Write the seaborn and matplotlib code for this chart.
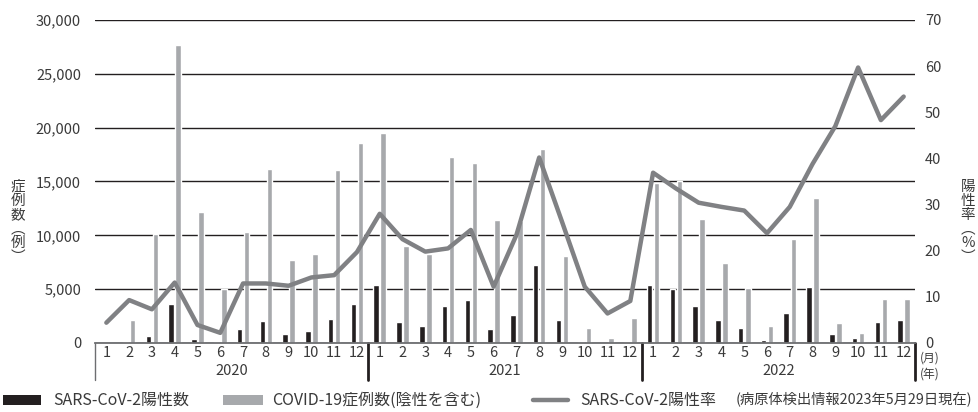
import matplotlib
matplotlib.use("Agg")
import matplotlib.pyplot as plt
import matplotlib.transforms as mtransforms
import pandas as pd
import seaborn as sns
from matplotlib.lines import Line2D
from matplotlib.patches import Rectangle

# --- data ---
years = ["2020", "2021", "2022"]
months = [str(m) for m in range(1, 13)]

positive_2020 = [0, 100, 650, 3600, 370, 50, 1270, 2000, 870, 1080, 2260, 3600]
positive_2021 = [5400, 1920, 1610, 3450, 4000, 1270, 2600, 7200, 2150, 100, 30, 100]
positive_2022 = [5400, 5000, 3450, 2100, 1400, 250, 2800, 5200, 800, 450, 1920, 2150]

cases_2020 = [0, 2100, 10100, 27700, 12200, 5000, 10300, 16200, 7700, 8300, 16100, 18600]
cases_2021 = [19500, 9000, 8300, 17300, 16700, 11400, 11300, 18000, 8100, 1400, 500, 2300]
cases_2022 = [14900, 15000, 11500, 7400, 5100, 1600, 9700, 13500, 1900, 900, 4100, 4100]

rate_2020 = [4.4, 9.3, 7.3, 13.1, 3.9, 2.2, 12.9, 12.9, 12.4, 14.2, 14.7, 19.7]
rate_2021 = [28.0, 22.5, 19.8, 20.5, 24.5, 12.2, 23.4, 40.2, 26.3, 12.2, 6.4, 9.1]
rate_2022 = [36.9, 33.5, 30.4, 29.5, 28.7, 23.8, 29.5, 38.8, 47.0, 59.7, 48.3, 53.4]

label_pos = "SARS-CoV-2陽性数"
label_cases = "COVID-19症例数(陰性を含む)"
label_rate = "SARS-CoV-2陽性率"
source_note = "(病原体検出情報2023年5月29日現在)"

BLACK = "#231f20"
GRAY_BAR = "#a7a9ac"
GRAY_LINE = "#808184"
TEXT = "#3a3a3a"

positives = positive_2020 + positive_2021 + positive_2022
cases = cases_2020 + cases_2021 + cases_2022
rates = rate_2020 + rate_2021 + rate_2022
idx = list(range(len(positives)))

df = pd.DataFrame({
    "idx": idx * 2,
    "series": [label_pos] * len(idx) + [label_cases] * len(idx),
    "value": positives + cases,
})

sns.set_theme(style="white")
plt.rcParams["font.family"] = ["Noto Sans CJK JP", "DejaVu Sans"]

fig = plt.figure(figsize=(9.79, 4.12), dpi=100)
ax = fig.add_axes([0.097, 0.1675, 0.8377, 0.7840])

sns.barplot(data=df, x="idx", y="value", hue="series", order=idx,
            hue_order=[label_pos, label_cases], palette=[BLACK, GRAY_BAR],
            width=0.62, gap=0.22, saturation=1, legend=False, ax=ax, zorder=2)

ax.set_xlim(-0.5, len(idx) - 0.5)
ax.set_ylim(0, 30000)
ax.set_yticks(range(0, 30001, 5000))
ax.set_yticklabels([f"{v:,}" for v in range(0, 30001, 5000)])
ax.yaxis.grid(True, color=BLACK, lw=1.0, zorder=0)
ax.set_axisbelow(True)
ax.set_xticks(idx)
ax.set_xticklabels(months * 3)
ax.set_xlabel("")
ax.set_ylabel("")
ax.tick_params(axis="both", length=0, labelsize=10.5, colors=TEXT)
ax.tick_params(axis="y", pad=10)
ax.tick_params(axis="x", pad=2)
for s in ["top", "right", "left"]:
    ax.spines[s].set_visible(False)
ax.spines["bottom"].set_color("#6d6e71")
ax.spines["bottom"].set_linewidth(1.3)

ax2 = ax.twinx()
sns.lineplot(x=idx, y=rates, ax=ax2, color=GRAY_LINE, lw=3.2)
ax2.set_ylim(0, 70)
ax2.set_yticks(range(0, 71, 10))
ax2.grid(False)
ax2.tick_params(axis="y", length=0, labelsize=10.5, colors=TEXT, pad=7)
for s in ax2.spines.values():
    s.set_visible(False)

# month / year box below the axis
trans = mtransforms.blended_transform_factory(ax.transData, ax.transAxes)
box_depth = -0.115
ax.plot([-0.5, -0.5], [0, box_depth], transform=trans, color="#6d6e71", lw=1.0, clip_on=False)
for xb in [11.5, 23.5, 35.5]:
    ax.plot([xb, xb], [0, box_depth], transform=trans, color=BLACK, lw=2.0, clip_on=False)
for i, y in enumerate(years):
    ax.text(i * 12 + 5.5, -0.087, y, transform=trans, ha="center", va="center",
            fontsize=10.5, color=TEXT)
ax.text(35.72, -0.047, "(月)", transform=trans, ha="left", va="center", fontsize=8.5, color=TEXT)
ax.text(35.72, -0.097, "(年)", transform=trans, ha="left", va="center", fontsize=8.5, color=TEXT)

# vertical axis titles
fig.text(18 / 979, 1 - 222 / 412, "\n".join(["症", "例", "数", "︵", "例", "︶"]),
         ha="center", va="center", fontsize=10.5, color=TEXT, linespacing=1.0)
fig.text(968 / 979, 1 - 222 / 412, "\n".join(["陽", "性", "率", "︵", "%", "︶"]),
         ha="center", va="center", fontsize=10.5, color=TEXT, linespacing=1.0)

# legend along the bottom
ly = 1 - 400 / 412
fig.add_artist(Rectangle((3 / 979, ly - 0.012), 38 / 979, 0.024, transform=fig.transFigure,
                         color=BLACK, lw=0))
fig.text(53 / 979, ly, label_pos, ha="left", va="center", fontsize=11.5, color=TEXT)
fig.add_artist(Rectangle((223 / 979, ly - 0.012), 40 / 979, 0.024, transform=fig.transFigure,
                         color=GRAY_BAR, lw=0))
fig.text(272 / 979, ly, label_cases, ha="left", va="center", fontsize=11.5, color=TEXT)
fig.add_artist(Line2D([533 / 979, 568 / 979], [ly, ly], transform=fig.transFigure,
                      color=GRAY_LINE, lw=3.2))
fig.text(580 / 979, ly, label_rate, ha="left", va="center", fontsize=11.5, color=TEXT)
fig.text(736 / 979, ly, source_note, ha="left", va="center", fontsize=10.3, color=TEXT)

fig.savefig("out.png", dpi=100)
plt.close(fig)
